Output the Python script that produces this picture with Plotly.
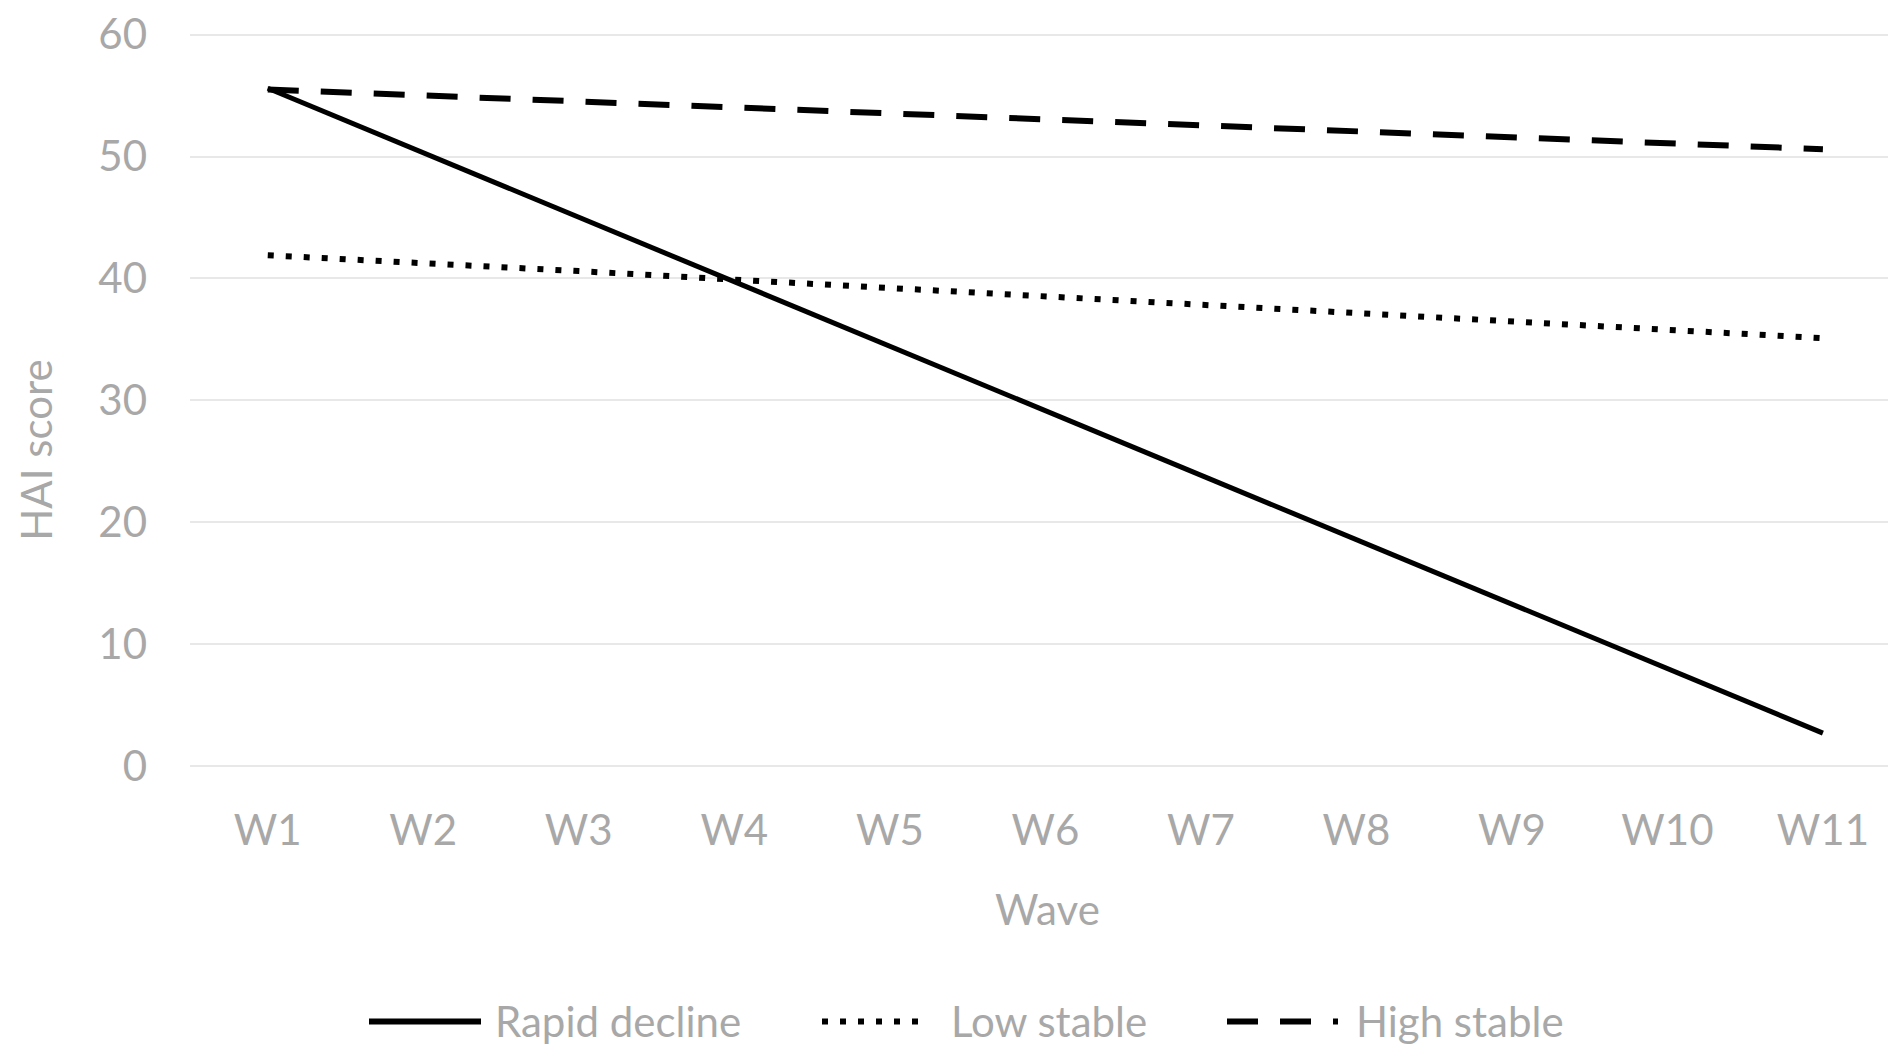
import plotly.graph_objects as go

waves = ["W1", "W2", "W3", "W4", "W5", "W6", "W7", "W8", "W9", "W10", "W11"]
rapid_decline = [55.6, 50.3, 45.0, 39.7, 34.4, 29.2, 23.9, 18.6, 13.3, 8.0, 2.7]
low_stable = [41.9, 41.3, 40.6, 39.9, 39.2, 38.6, 37.9, 37.2, 36.5, 35.8, 35.1]
high_stable = [55.5, 55.0, 54.5, 54.0, 53.5, 53.1, 52.6, 52.1, 51.6, 51.1, 50.6]
y_ticks = [0, 10, 20, 30, 40, 50, 60]
series_names = ["Rapid decline", "Low stable", "High stable"]

FONT = "Lato, Open Sans, Liberation Sans, sans-serif"
TXT = "#a8a8a8"
FS = 42

OFF = 8  # default page body margin
W, H = 1896 - OFF, 1052 - OFF
BOTTOM_PAGE = 766
TOP60_PAGE = 33
YMAX = 60.3
unit = (BOTTOM_PAGE - TOP60_PAGE) / 60.0
top_page = TOP60_PAGE - (YMAX - 60) * unit
L, R = 190 - OFF, 0
T = top_page - OFF
B = H - (BOTTOM_PAGE - OFF)
pw, ph = W - L - R, H - T - B


def px(xp):
    return (xp - OFF - L) / pw


def py(yp):
    return (BOTTOM_PAGE - yp) / ph


styles = [
    dict(color="#000000", width=5),
    dict(color="#000000", width=6, dash="6px,12px"),
    dict(color="#000000", width=6, dash="31px,22px"),
]
series = [rapid_decline, low_stable, high_stable]

fig = go.Figure()
for name, vals, st in zip(series_names, series, styles):
    fig.add_trace(go.Scatter(x=waves, y=vals, mode="lines", name=name, line=st,
                             showlegend=False))

# manual legend (page coordinates of reference)
leg_y = 1022
sample_x = [(369, 481), (822, 929), (1227, 1338)]
text_x = [493, 949, 1354]
shapes = []
annotations = []
for name, st, (x0, x1), tx in zip(series_names, styles, sample_x, text_x):
    shapes.append(dict(type="line", xref="paper", yref="paper",
                       x0=px(x0), x1=px(x1), y0=py(leg_y), y1=py(leg_y),
                       line=dict(color=st["color"], width=6, dash=st.get("dash", "solid"))))
    annotations.append(dict(text=name, xref="paper", yref="paper", x=px(tx), y=py(leg_y),
                            xanchor="left", yanchor="middle", showarrow=False,
                            font=dict(family=FONT, size=FS, color=TXT)))

annotations += [
    dict(text="HAI score", xref="paper", yref="paper",
         x=px(36), y=py(450), xanchor="center", yanchor="middle",
         textangle=-90, showarrow=False, font=dict(family=FONT, size=FS, color=TXT)),
    dict(text="Wave", xref="paper", yref="paper",
         x=px(1047), y=py(909), xanchor="center", yanchor="middle",
         showarrow=False, font=dict(family=FONT, size=FS, color=TXT)),
]

fig.update_layout(
    width=W, height=H,
    margin=dict(l=L, r=R, t=T, b=B),
    paper_bgcolor="white", plot_bgcolor="white",
    font=dict(family=FONT, size=FS, color=TXT),
    showlegend=False,
    xaxis=dict(type="category", range=[-0.5, 10.47], showgrid=False, zeroline=False,
               showline=False, ticks="", ticklabelstandoff=36,
               tickfont=dict(family=FONT, size=FS, color=TXT)),
    yaxis=dict(range=[0, YMAX], tickvals=y_ticks, showgrid=True, gridcolor="#e8e8e8",
               gridwidth=2, zeroline=True, zerolinecolor="#e8e8e8", zerolinewidth=2,
               showline=False, ticks="", ticklabelstandoff=42, ticklabeloverflow="allow",
               tickfont=dict(family=FONT, size=FS, color=TXT)),
    shapes=shapes,
    annotations=annotations,
)

fig.write_html("out.html")
